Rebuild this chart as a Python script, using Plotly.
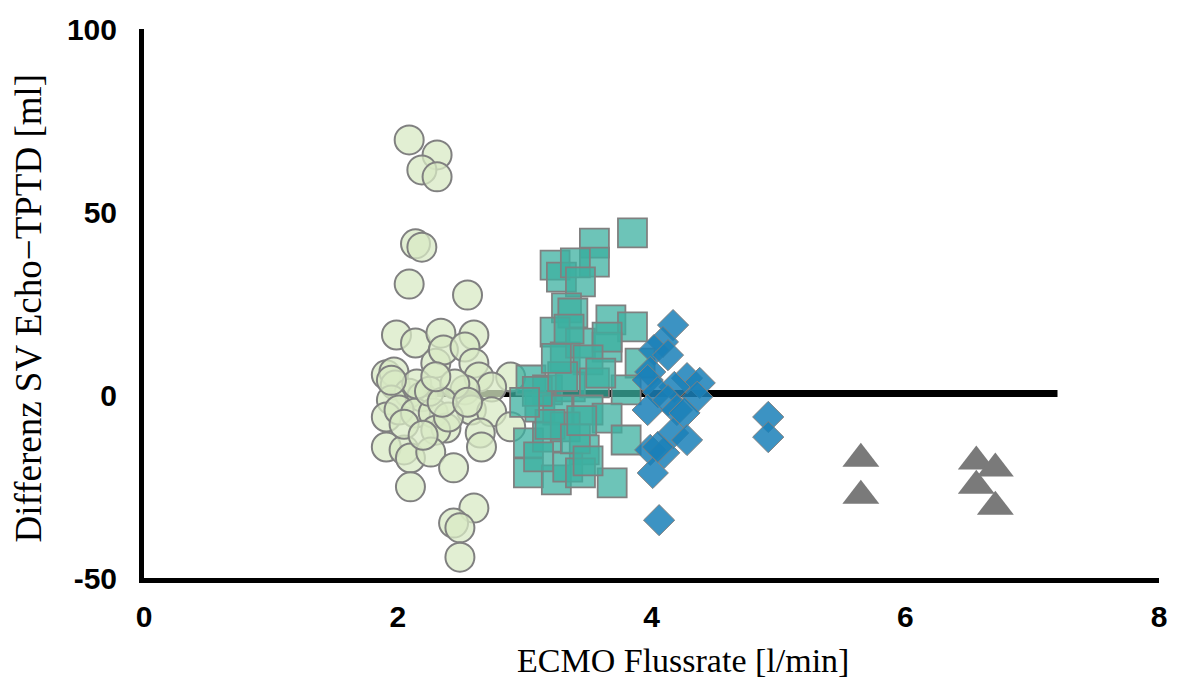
import plotly.graph_objects as go

# ECMO flow rate groups (x) and SV difference (y)
circle_x = [2.09, 2.31, 2.19, 2.31, 2.14, 2.19, 2.09, 2.55, 1.99, 2.14, 2.34, 2.60, 2.30, 2.36, 2.53,
            2.60, 1.91, 1.97, 2.89, 2.64, 2.74, 2.53, 1.98, 2.09, 2.19, 1.95, 1.91, 2.01, 2.14, 2.28,
            2.38, 2.30, 2.58, 2.74, 2.89, 2.65, 2.66, 1.91, 2.05, 2.10, 2.26, 2.44, 2.10, 2.60, 2.44,
            2.49, 2.49, 2.15, 2.25, 2.40, 2.45, 2.05, 2.20, 2.35, 1.95, 2.55, 2.30]
circle_y = [69.7, 65.6, 61.5, 59.6, 41.3, 40.4, 30.3, 27.3, 16.4, 14.2, 16.9, 16.4, 8.7, 12.3, 13.1,
            8.7, 5.5, 6.3, 4.9, 4.9, 2.2, 1.4, 2.7, 0.5, -0.5, -1.4, -6.0, -4.1, -4.9, -4.9,
            -9.0, -9.6, -4.1, -4.6, -8.7, -10.4, -14.2, -14.2, -15.0, -17.2, -15.6, -19.9, -25.1, -30.9, -35.0,
            -36.3, -44.3, 3.0, 1.0, -6.0, 3.0, -8.0, -11.0, -2.0, 4.0, -2.0, 5.0]

square_x = [3.85, 3.55, 3.55, 3.24, 3.29, 3.40, 3.44, 3.33, 3.38, 3.24, 3.68, 3.85, 3.32, 3.44, 3.65,
            3.65, 3.05, 3.50, 3.91, 3.18, 3.36, 3.55, 3.80, 3.12, 3.26, 3.50, 3.65, 3.80, 3.03, 3.18,
            3.32, 3.47, 3.03, 3.25, 3.34, 3.44, 3.69, 3.11, 3.10, 3.20, 3.40, 3.30, 3.50, 3.60, 3.00,
            3.35, 3.45, 3.25]
square_y = [44.3, 41.5, 36.3, 35.5, 32.2, 36.1, 30.9, 23.8, 22.4, 17.2, 20.5, 18.6, 10.4, 14.2, 13.1,
            15.8, 4.1, 9.6, 8.7, 1.4, 2.2, 3.3, 1.4, -3.3, -4.1, -4.1, -6.3, -12.3, -13.1, -11.5,
            -8.7, -15.0, -21.3, -23.2, -19.7, -21.3, -24.0, -16.9, 1.0, -8.0, -12.0, 5.0, -18.0, 6.0, -2.0,
            18.0, -7.0, 10.0]

diamond_x = [4.17, 4.09, 4.02, 4.13, 3.99, 3.97, 4.28, 4.38, 4.18, 4.36, 4.05, 3.97, 4.13, 4.20, 4.26,
             4.17, 4.28, 3.99, 4.10, 4.01, 4.06, 4.05, 4.92, 4.92]
diamond_y = [19.1, 14.5, 12.3, 10.9, 6.3, 4.1, 4.6, 3.3, 2.2, -0.5, 0.8, -4.1, -1.4, -4.1, -4.9,
             -10.4, -12.3, -15.0, -15.8, -21.3, -34.2, -14.2, -6.0, -11.5]

triangle_x = [5.65, 5.65, 6.56, 6.71, 6.56, 6.71]
triangle_y = [-17.4, -27.5, -18.2, -20.1, -24.8, -30.5]

bias_x = [1.9, 7.2]
bias_y = [0.4, 0.4]

x_ticks = [0, 2, 4, 6, 8]
y_ticks = [-50, 0, 50, 100]

fig = go.Figure()
fig.add_trace(go.Scatter(x=bias_x, y=bias_y, mode="lines",
                         line=dict(color="black", width=7), hoverinfo="skip"))
fig.add_trace(go.Scatter(x=circle_x, y=circle_y, mode="markers",
                         marker=dict(symbol="circle", size=29, color="rgba(216,234,196,0.75)",
                                     line=dict(color="#808080", width=2))))
fig.add_trace(go.Scatter(x=square_x, y=square_y, mode="markers",
                         marker=dict(symbol="square", size=29, color="rgba(60,176,160,0.75)",
                                     line=dict(color="#808080", width=1.8))))
fig.add_trace(go.Scatter(x=diamond_x, y=diamond_y, mode="markers",
                         marker=dict(symbol="diamond", size=24, color="rgba(26,128,184,0.85)",
                                     line=dict(color="#808080", width=1))))
fig.add_trace(go.Scatter(x=triangle_x, y=triangle_y, mode="markers",
                         marker=dict(symbol="triangle-up", size=32, color="#7a7a7a",
                                     line=dict(width=0))))

tickfont = dict(family="Liberation Sans, Arial", size=30, color="black", weight=900)
fig.update_layout(
    width=1179, height=682,
    margin=dict(l=144, r=17, t=28, b=104),
    paper_bgcolor="white", plot_bgcolor="white",
    showlegend=False,
    xaxis=dict(range=[0, 8], tickvals=x_ticks,
               ticktext=["<b>%d</b>" % v for v in x_ticks],
               showgrid=False, zeroline=False, showline=True, linecolor="black", linewidth=5,
               ticks="", tickfont=tickfont, ticklabelstandoff=8),
    yaxis=dict(range=[-50, 100], tickvals=y_ticks,
               ticktext=["<b>%d</b>" % v for v in y_ticks],
               showgrid=False, zeroline=False, showline=True, linecolor="black", linewidth=5,
               ticks="", tickfont=tickfont, ticklabelstandoff=16),
    annotations=[
        dict(text="ECMO Flussrate [l/min]", xref="paper", yref="paper", x=0.531, y=0,
             xanchor="center", yanchor="middle", yshift=-82, showarrow=False,
             font=dict(family="Liberation Serif, Times New Roman", size=34, color="black")),
        dict(text="Differenz SV Echo\u2212TPTD [ml]", xref="paper", yref="paper", x=0, y=0.491,
             xanchor="center", yanchor="middle", xshift=-116, textangle=-90, showarrow=False,
             font=dict(family="Liberation Serif, Times New Roman", size=37, color="black")),
    ],
)

fig.write_html("out.html")
